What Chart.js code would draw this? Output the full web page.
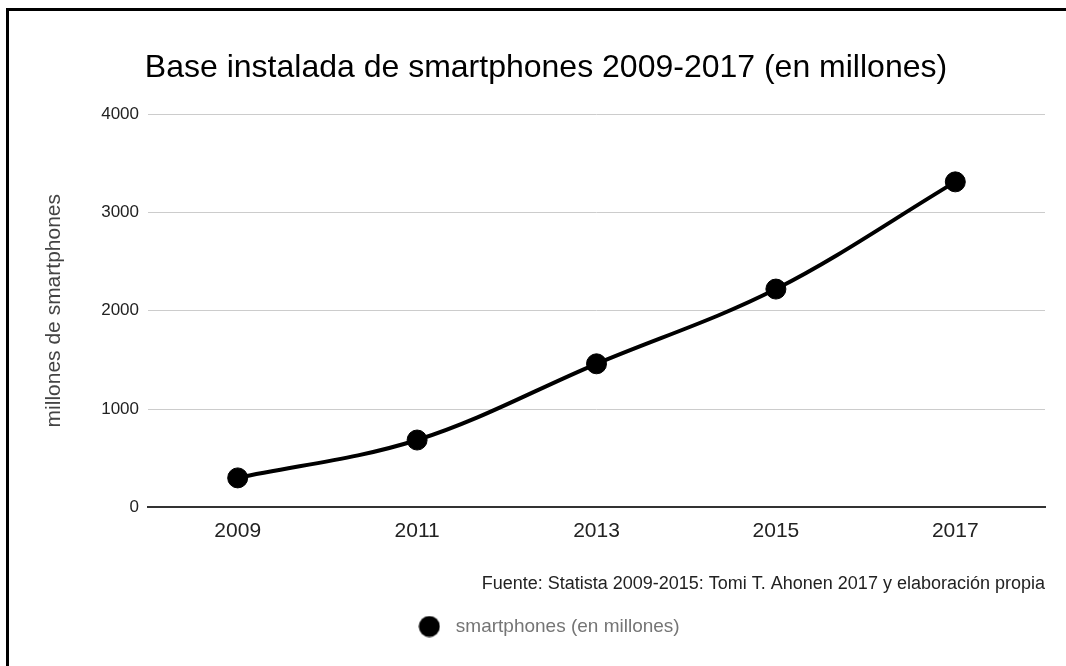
<!DOCTYPE html>
<html>
<head>
<meta charset="utf-8">
<script src="https://cdn.jsdelivr.net/npm/chart.js@4.4.1/dist/chart.umd.min.js"></script>
<style>
  html, body { margin: 0; padding: 0; background: #fff; overflow: hidden; width: 1066px; height: 666px; }
  #frame { position: absolute; left: 6px; top: 8px; border-top: 3px solid #000; border-left: 3px solid #000; width: 1074px; height: 655px; }
  #c { display: block; }
</style>
</head>
<body>
<div id="frame"><canvas id="c" width="1074" height="655"></canvas></div>
<script>
const years = ['2009', '2011', '2013', '2015', '2017'];
const smartphones = [300, 685, 1460, 2220, 3310];
const yTickValues = [0, 1000, 2000, 3000, 4000];
const chartTitle = 'Base instalada de smartphones 2009-2017 (en millones)';
const sourceNote = 'Fuente: Statista 2009-2015: Tomi T. Ahonen 2017 y elaboración propia';
const seriesName = 'smartphones (en millones)';
const yAxisTitle = 'millones de smartphones';

const FONT = "'Liberation Sans', Arial, sans-serif";

// round legend marker (drawn as a small canvas so it is not stretched)
const legendDot = document.createElement('canvas');
legendDot.width = 22; legendDot.height = 22;
(function () {
  const g = legendDot.getContext('2d');
  g.fillStyle = '#000';
  g.beginPath();
  g.arc(11, 11, 10.5, 0, Math.PI * 2);
  g.fill();
})();

new Chart(document.getElementById('c'), {
  type: 'line',
  data: {
    labels: years,
    datasets: [{
      label: seriesName,
      data: smartphones,
      borderColor: '#000',
      backgroundColor: '#000',
      borderWidth: 4,
      tension: 0.35,
      pointRadius: 10,
      pointHoverRadius: 10,
      pointBorderWidth: 1,
      pointBorderColor: '#000',
      pointBackgroundColor: '#000',
      pointStyle: 'circle',
      fill: false,
      yAxisID: 'y',
      xAxisID: 'x'
    }]
  },
  options: {
    responsive: false,
    animation: false,
    layout: { padding: { left: 0, right: 0, top: 0, bottom: 20 } },
    plugins: {
      tooltip: { enabled: false },
      title: {
        display: true,
        text: chartTitle,
        color: '#000',
        font: { family: FONT, size: 32, weight: 'normal' },
        padding: { top: 38, bottom: 26.6 }
      },
      subtitle: {
        display: true,
        text: sourceNote,
        position: 'bottom',
        align: 'end',
        fullSize: false,
        weight: 500,
        color: '#222',
        font: { family: FONT, size: 18, weight: 'normal' },
        padding: { top: 16, bottom: 12 }
      },
      legend: {
        display: true,
        position: 'bottom',
        align: 'center',
        labels: {
          usePointStyle: true,
          pointStyle: legendDot,
          boxHeight: 15,
          pointStyleWidth: 34,
          color: '#757575',
          padding: 10,
          font: { family: FONT, size: 19 }
        }
      }
    },
    scales: {
      x: {
        type: 'category',
        offset: true,
        grid: { display: false, drawTicks: false },
        border: { display: true, color: '#333', width: 2 },
        ticks: { color: '#222', padding: 11, font: { family: FONT, size: 21 }, maxRotation: 0 },
        afterFit: (s) => { s.height = 50; }
      },
      y: {
        type: 'linear',
        position: 'left',
        min: 0,
        max: 4000,
        afterBuildTicks: (s) => { s.ticks = yTickValues.map(v => ({ value: v })); },
        grid: { color: (ctx) => ctx.tick && ctx.tick.value === 0 ? 'rgba(0,0,0,0)' : '#cccccc', lineWidth: 1, drawTicks: false },
        border: { display: false },
        ticks: { color: '#222', padding: 9, font: { family: FONT, size: 17 }, callback: (v) => String(v) },
        title: {
          display: true,
          text: yAxisTitle,
          color: '#444',
          font: { family: FONT, size: 21 },
          padding: { top: 32.4, bottom: 0 }
        },
        afterFit: (s) => { s.width = 139; }
      },
      yRight: {
        type: 'linear',
        position: 'right',
        display: true,
        grid: { display: false, drawTicks: false },
        border: { display: false },
        ticks: { display: false },
        afterFit: (s) => { s.width = 38; }
      }
    }
  }
});
</script>
</body>
</html>
